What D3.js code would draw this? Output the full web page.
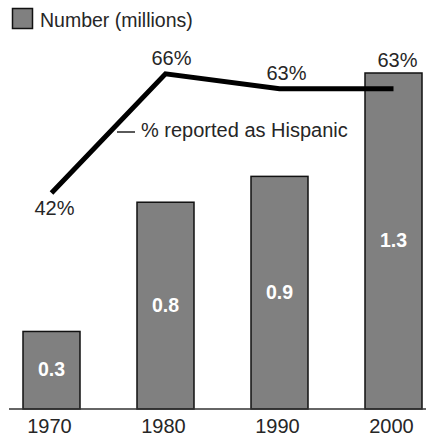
<!DOCTYPE html>
<html>
<head>
<meta charset="utf-8">
<script src="https://cdn.jsdelivr.net/npm/d3@7"></script>
<style>
  html, body { margin: 0; padding: 0; background: #fff; }
  svg { display: block; font-family: "Liberation Sans", Arial, Helvetica, sans-serif; }
</style>
</head>
<body>
<svg id="chart" width="426" height="436"></svg>
<script>
// Hispanic-origin population counts and share reported as Hispanic
const years = ["1970", "1980", "1990", "2000"];
const numberMillions = [0.3, 0.8, 0.9, 1.3];
const pctHispanic = [42, 66, 63, 63];
const legendLabel = "Number (millions)";
const lineLabel = "% reported as Hispanic";

const svg = d3.select("#chart");
const baseY = 409;
const textColor = "#262626";

const x = d3.scaleBand().domain(years).range([23, 422]).paddingInner(0.5).paddingOuter(0);
const y = d3.scaleLinear().domain([0, 1.3]).range([baseY, 73]);
const yPct = d3.scaleLinear().domain([40, 70]).range([203, 54]);
const cx = d => x(d) + x.bandwidth() / 2;

// Bars
svg.append("g").selectAll("rect")
  .data(years)
  .join("rect")
  .attr("x", d => x(d))
  .attr("y", (d, i) => y(numberMillions[i]))
  .attr("width", x.bandwidth())
  .attr("height", (d, i) => baseY - y(numberMillions[i]))
  .attr("fill", "#808080")
  .attr("stroke", "#111")
  .attr("stroke-width", 1.5);

// Bar value labels
svg.append("g").selectAll("text")
  .data(years)
  .join("text")
  .attr("x", d => cx(d))
  .attr("y", (d, i) => (y(numberMillions[i]) + baseY) / 2 + 6)
  .attr("text-anchor", "middle")
  .attr("font-size", 19.5)
  .attr("font-weight", "bold")
  .attr("fill", "#fff")
  .text((d, i) => numberMillions[i].toFixed(1));

// Baseline axis
const xAxis = d3.axisBottom(x).tickSize(0).tickPadding(0).tickFormat(d => d);
const axisG = svg.append("g").attr("transform", `translate(0,${baseY})`).call(xAxis);
axisG.select(".domain").remove();
axisG.selectAll("text")
  .attr("font-size", 20)
  .attr("font-family", "Liberation Sans, Arial, sans-serif")
  .attr("fill", textColor)
  .attr("dx", "-2")
  .attr("dy", 0)
  .attr("y", 24);
svg.append("line")
  .attr("x1", 9).attr("x2", 426)
  .attr("y1", baseY).attr("y2", baseY)
  .attr("stroke", "#333").attr("stroke-width", 1.5);

// Percentage line
const line = d3.line()
  .x((d, i) => cx(years[i]))
  .y(d => yPct(d));
svg.append("path")
  .datum(pctHispanic)
  .attr("d", line)
  .attr("fill", "none")
  .attr("stroke", "#000")
  .attr("stroke-width", 5)
  .attr("stroke-linecap", "butt")
  .attr("stroke-linejoin", "miter");

// Percentage labels, offset from each point
const pctOffsets = [[3, 22], [6, -9], [7, -9], [4, -22]];
svg.append("g").selectAll("text")
  .data(pctHispanic)
  .join("text")
  .attr("x", (d, i) => cx(years[i]) + pctOffsets[i][0])
  .attr("y", (d, i) => yPct(d) + pctOffsets[i][1])
  .attr("text-anchor", "middle")
  .attr("font-size", 20)
  .attr("fill", textColor)
  .text(d => d + "%");

// Line label with leader dash
svg.append("line")
  .attr("x1", 117).attr("x2", 135)
  .attr("y1", 132).attr("y2", 132)
  .attr("stroke", "#000").attr("stroke-width", 1.3);
svg.append("text")
  .attr("x", 141).attr("y", 137)
  .attr("font-size", 20)
  .attr("fill", textColor)
  .text(lineLabel);

// Legend
svg.append("rect")
  .attr("x", 12.5).attr("y", 8.5)
  .attr("width", 20).attr("height", 20)
  .attr("fill", "#808080")
  .attr("stroke", "#111")
  .attr("stroke-width", 1.5);
svg.append("text")
  .attr("x", 40).attr("y", 27)
  .attr("font-size", 19.5)
  .attr("fill", textColor)
  .text(legendLabel);
</script>
</body>
</html>
